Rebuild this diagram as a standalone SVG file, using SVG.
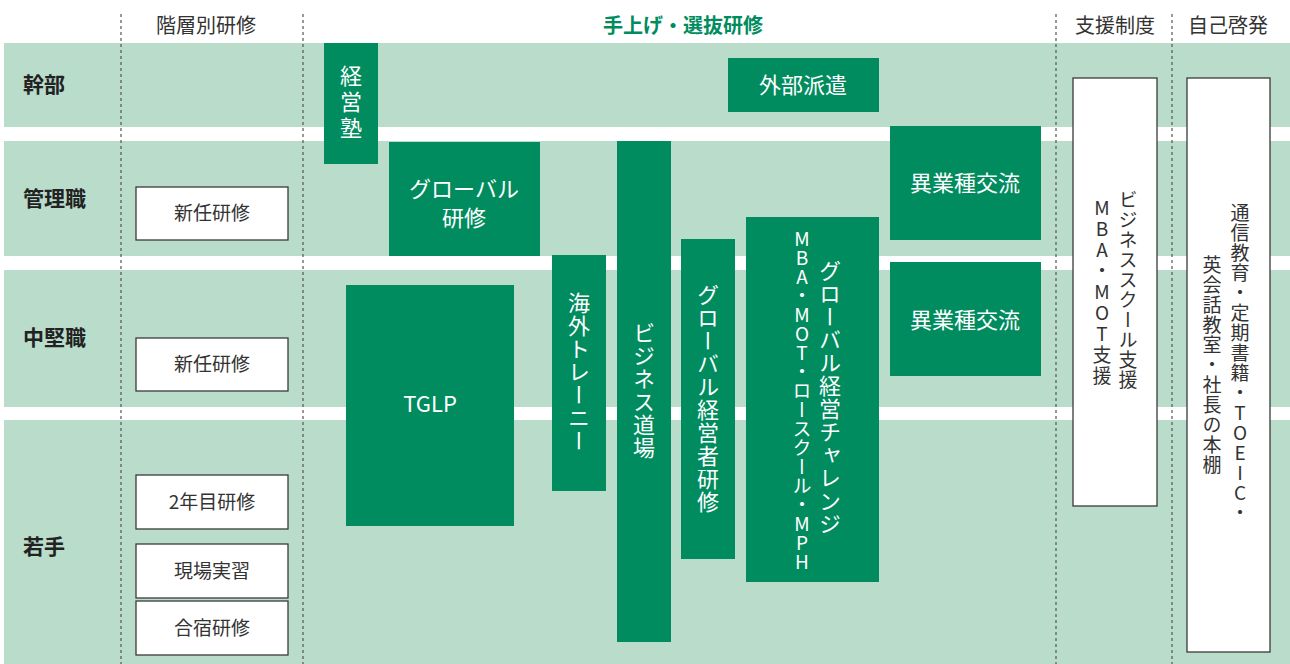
<svg xmlns="http://www.w3.org/2000/svg" width="1290" height="664" viewBox="0 0 1290 664">
<style>
text{font-family:"Noto Sans CJK JP","Noto Sans",sans-serif}
.band{fill:#b9dccb}
.g{fill:#008c5e}
.w{fill:#fff;stroke:#3a3a3a;stroke-width:1.3}
.dash{stroke:#555;stroke-width:1.2;stroke-dasharray:3 3;fill:none}
.hd{font-size:20px;fill:#333;text-anchor:middle}
.row{font-size:21px;font-weight:bold;fill:#222}
.wt{font-size:22px;fill:#fff;text-anchor:middle}
.bt{font-size:19px;fill:#333;text-anchor:middle}
.v{writing-mode:vertical-rl;text-orientation:upright}
</style>
<rect width="1290" height="664" fill="#fff"/>
<g id="bands">
<rect class="band" x="4" y="43" width="1286" height="84"/>
<rect class="band" x="4" y="141" width="1286" height="115"/>
<rect class="band" x="4" y="270" width="1286" height="137"/>
<rect class="band" x="4" y="420" width="1286" height="244"/>
</g>
<g id="dividers">
<line class="dash" x1="121" y1="14" x2="121" y2="664"/>
<line class="dash" x1="303" y1="14" x2="303" y2="664"/>
<line class="dash" x1="1056" y1="14" x2="1056" y2="664"/>
<line class="dash" x1="1172" y1="14" x2="1172" y2="664"/>
</g>
<g id="headers">
<text class="hd" x="206" y="33">階層別研修</text>
<text class="hd" x="683" y="33" style="fill:#008c5e;font-weight:bold">手上げ・選抜研修</text>
<text class="hd" x="1115" y="33">支援制度</text>
<text class="hd" x="1228" y="33">自己啓発</text>
</g>
<g id="rows">
<text class="row" x="23" y="92">幹部</text>
<text class="row" x="23" y="206">管理職</text>
<text class="row" x="23" y="345">中堅職</text>
<text class="row" x="23" y="554">若手</text>
</g>
<g id="n-shinnin1"><rect class="w" x="136" y="187" width="152" height="53"/><text class="bt" x="212" y="220">新任研修</text></g>
<g id="n-shinnin2"><rect class="w" x="136" y="338" width="152" height="53"/><text class="bt" x="212" y="371">新任研修</text></g>
<g id="n-2nen"><rect class="w" x="136" y="475" width="152" height="54"/><text class="bt" x="212" y="509">2年目研修</text></g>
<g id="n-genba"><rect class="w" x="136" y="544" width="152" height="54"/><text class="bt" x="212" y="578">現場実習</text></g>
<g id="n-gasshuku"><rect class="w" x="136" y="601" width="152" height="54"/><text class="bt" x="212" y="635">合宿研修</text></g>
<g id="n-keieijuku"><rect class="g" x="324" y="43" width="54" height="121"/><text class="wt v" x="351" y="104" style="letter-spacing:4px">経営塾</text></g>
<g id="n-gaibu"><rect class="g" x="728" y="58" width="151" height="54"/><text class="wt" x="803" y="93">外部派遣</text></g>
<g id="n-global"><rect class="g" x="389" y="142" width="151" height="114"/><text class="wt" x="464" y="197">グローバル</text><text class="wt" x="464" y="226">研修</text></g>
<g id="n-igyo1"><rect class="g" x="890" y="126" width="151" height="114"/><text class="wt" x="965" y="191">異業種交流</text></g>
<g id="n-igyo2"><rect class="g" x="890" y="262" width="151" height="114"/><text class="wt" x="965" y="328">異業種交流</text></g>
<g id="n-tglp"><rect class="g" x="346" y="285" width="168" height="241"/><text class="wt" x="430" y="412">TGLP</text></g>
<g id="n-kaigai"><rect class="g" x="552" y="255" width="54" height="236"/><text class="wt v" x="579" y="372" style="letter-spacing:1px">海外トレーニー</text></g>
<g id="n-dojo"><rect class="g" x="617" y="141" width="54" height="501"/><text class="wt v" x="644" y="391" style="letter-spacing:1px">ビジネス道場</text></g>
<g id="n-gkeiei"><rect class="g" x="681" y="239" width="54" height="320"/><text class="wt v" x="708" y="399" style="letter-spacing:1px">グローバル経営者研修</text></g>
<g id="n-challenge"><rect class="g" x="746" y="217" width="133" height="365"/>
<text class="wt v" x="830" y="398" style="letter-spacing:1px">グローバル経営チャレンジ</text>
<text class="wt v" x="802" y="400" style="font-size:19px">MBA・MOT・ロースクール・MPH</text></g>
<g id="n-bschool"><rect class="w" x="1073" y="78" width="84" height="428"/>
<text class="bt v" x="1128" y="290" style="letter-spacing:1px">ビジネススクール支援</text>
<text class="bt v" x="1102" y="293" style="letter-spacing:2px">MBA・MOT支援</text></g>
<g id="n-jiko"><rect class="w" x="1187" y="78" width="83" height="574"/>
<text class="bt v" x="1240" y="363" style="letter-spacing:1px">通信教育・定期書籍・TOEIC・</text>
<text class="bt v" x="1212" y="365" style="letter-spacing:1px">英会話教室・社長の本棚</text></g>
<g id="connectors"></g>
</svg>
